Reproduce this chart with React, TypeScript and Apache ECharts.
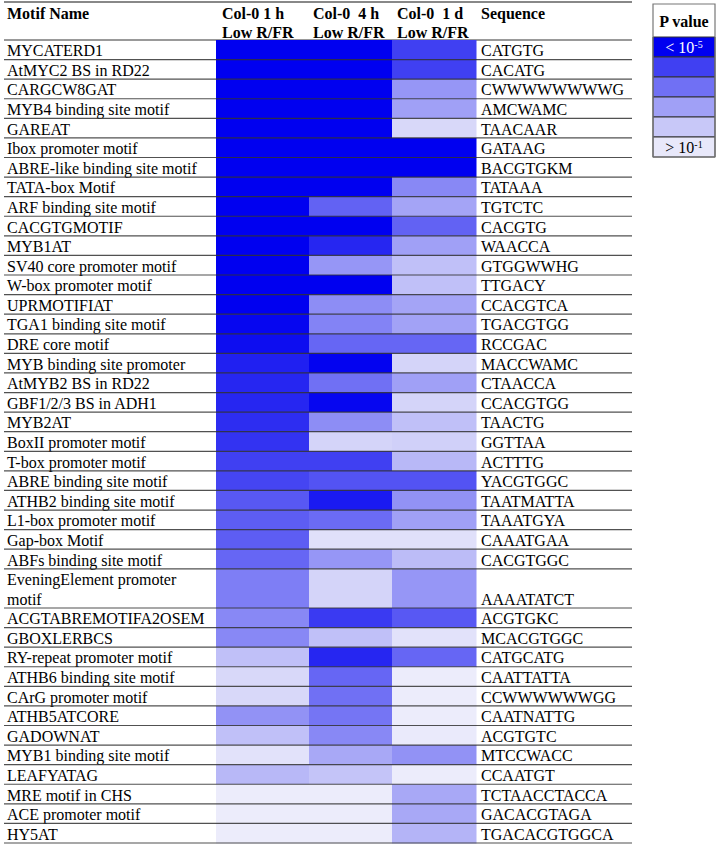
import React, { useEffect, useRef } from 'react';
import * as echarts from 'echarts';

// ---------- data ----------
const motifNames = [
  'MYCATERD1', 'AtMYC2 BS in RD22', 'CARGCW8GAT', 'MYB4 binding site motif', 'GAREAT',
  'Ibox promoter motif', 'ABRE-like binding site motif', 'TATA-box Motif', 'ARF binding site motif', 'CACGTGMOTIF',
  'MYB1AT', 'SV40 core promoter motif', 'W-box promoter motif', 'UPRMOTIFIAT', 'TGA1 binding site motif',
  'DRE core motif', 'MYB binding site promoter', 'AtMYB2 BS in RD22', 'GBF1/2/3 BS in ADH1', 'MYB2AT',
  'BoxII promoter motif', 'T-box promoter motif', 'ABRE binding site motif', 'ATHB2 binding site motif', 'L1-box promoter motif',
  'Gap-box Motif', 'ABFs binding site motif', 'EveningElement promoter\nmotif', 'ACGTABREMOTIFA2OSEM', 'GBOXLERBCS',
  'RY-repeat promoter motif', 'ATHB6 binding site motif', 'CArG promoter motif', 'ATHB5ATCORE', 'GADOWNAT',
  'MYB1 binding site motif', 'LEAFYATAG', 'MRE motif in CHS', 'ACE promoter motif', 'HY5AT',
];

const sequences = [
  'CATGTG', 'CACATG', 'CWWWWWWWWG', 'AMCWAMC', 'TAACAAR',
  'GATAAG', 'BACGTGKM', 'TATAAA', 'TGTCTC', 'CACGTG',
  'WAACCA', 'GTGGWWHG', 'TTGACY', 'CCACGTCA', 'TGACGTGG',
  'RCCGAC', 'MACCWAMC', 'CTAACCA', 'CCACGTGG', 'TAACTG',
  'GGTTAA', 'ACTTTG', 'YACGTGGC', 'TAATMATTA', 'TAAATGYA',
  'CAAATGAA', 'CACGTGGC', 'AAAATATCT', 'ACGTGKC', 'MCACGTGGC',
  'CATGCATG', 'CAATTATTA', 'CCWWWWWWGG', 'CAATNATTG', 'ACGTGTC',
  'MTCCWACC', 'CCAATGT', 'TCTAACCTACCA', 'GACACGTAGA', 'TGACACGTGGCA',
];

const columnTitles = ['Col-0 1 h', 'Col-0  4 h', 'Col-0  1 d'];
const columnSubtitles = ['Low R/FR', 'Low R/FR', 'Low R/FR'];

// significance score: 5 = P < 1e-5 ... 0 = P > 1e-1
const scoreCol1h = [
  5, 5, 5, 5, 5, 5, 5, 5, 5, 5,
  5, 5, 5, 5, 4.9, 4.8, 4.5, 4.4, 4.4, 4.3,
  4.2, 4.0, 3.9, 3.5, 3.4, 3.4, 3.2, 2.7, 2.5, 2.5,
  1.2, 0.6, 0.6, 2.3, 1.2, 0.35, 1.4, 0.1, 0.1, 0.1,
];
const scoreCol4h = [
  5, 5, 5, 5, 5, 5, 5, 5, 3.3, 5,
  4.4, 2.2, 5, 2.4, 2.6, 3.2, 4.95, 3.0, 4.9, 2.4,
  0.7, 4.0, 3.6, 4.6, 3.1, 0.4, 2.2, 0.7, 4.1, 1.2,
  4.4, 3.2, 3.0, 2.9, 2.5, 1.8, 1.1, 0.1, 0.1, 0.1,
];
const scoreCol1d = [
  4, 4, 2.2, 2.0, 0.6, 5, 5, 2.5, 1.9, 3.3,
  2.0, 1.2, 1.2, 1.9, 1.95, 3.2, 0.7, 2.0, 0.7, 1.2,
  0.8, 1.4, 3.6, 2.3, 2.0, 0.4, 1.3, 2.2, 3.5, 0.35,
  3.2, 0.1, 0.1, 0.1, 0.15, 2.3, 0.1, 1.8, 1.8, 1.5,
];

const legendTitle = 'P value';
const legendColors = ['#0000F0', '#4040F2', '#7070F4', '#A0A0F6', '#C8C8F8', '#E8E8FA'];
const scaleColors = ['#F0F0FB', '#C8C8F8', '#A0A0F6', '#7070F4', '#4040F2', '#0000F0'];

// ---------- layout ----------
const FONT = '"Liberation Serif", "Times New Roman", serif';
const TABLE_LEFT = 4;
const TABLE_RIGHT = 632;
const TABLE_WIDTH = TABLE_RIGHT - TABLE_LEFT;
const COL_EDGES = [212, 305, 388, 472]; // in table px units from TABLE_LEFT
const NAME_X = 3;
const SEQ_X = 477;

export default function App() {
  const ref = useRef<HTMLDivElement>(null);

  useEffect(() => {
    if (!ref.current) return;
    const chart = echarts.init(ref.current, undefined, { renderer: 'svg' });

    const rowSpan = motifNames.map((n) => n.split('\n').length);
    const rowStart: number[] = [];
    let acc = 0;
    rowSpan.forEach((s) => {
      rowStart.push(acc);
      acc += s;
    });
    const totalUnits = acc;

    const cellData: number[][] = [];
    [scoreCol1h, scoreCol4h, scoreCol1d].forEach((arr, c) =>
      arr.forEach((v, r) => cellData.push([c, r, v]))
    );
    const rowData = motifNames.map((_, i) => [0, i]);

    const txt = (text: string, x: number, y: number, opts: any = {}) => ({
      type: 'text',
      silent: true,
      style: {
        text,
        x,
        y,
        fill: opts.fill || '#000',
        font: opts.font || `16px ${FONT}`,
        textAlign: opts.align || 'left',
        align: opts.align || 'left',
        textVerticalAlign: 'middle',
        verticalAlign: 'middle',
        ...(opts.rich ? { rich: opts.rich } : {}),
      },
    });

    const graphics: any[] = [];
    // header lines
    graphics.push({ type: 'line', shape: { x1: TABLE_LEFT, y1: 2, x2: TABLE_RIGHT, y2: 2 }, style: { stroke: '#888', lineWidth: 2 } });
    graphics.push({ type: 'line', shape: { x1: TABLE_LEFT, y1: 40, x2: TABLE_RIGHT, y2: 40 }, style: { stroke: '#777', lineWidth: 1.5 } });
    graphics.push(txt('Motif Name', 7, 13, { font: `bold 16px ${FONT}` }));
    const headerX = [222, 313, 397];
    columnTitles.forEach((t, i) => {
      graphics.push(txt(t, headerX[i], 13, { font: `bold 16px ${FONT}` }));
      graphics.push(txt(columnSubtitles[i], headerX[i], 32, { font: `bold 16px ${FONT}` }));
    });
    graphics.push(txt('Sequence', 481, 13, { font: `bold 16px ${FONT}` }));

    // legend box
    const LX = 653, LW = 62, LTOP = 4, LHEAD = 37, LCELL = 20;
    legendColors.forEach((col, i) => {
      graphics.push({
        type: 'rect',
        shape: { x: LX, y: LHEAD + i * LCELL, width: LW, height: LCELL },
        style: { fill: col, stroke: '#333', lineWidth: 1 },
      });
    });
    graphics.push({
      type: 'rect',
      shape: { x: LX, y: LTOP, width: LW, height: LHEAD + legendColors.length * LCELL - LTOP },
      style: { fill: 'none', stroke: '#777', lineWidth: 1.2 },
    });
    graphics.push(txt(legendTitle, LX + LW / 2, 21, { font: `bold 16px ${FONT}`, align: 'center' }));
    graphics.push(
      txt('{a|< 10}{s|-5}', LX + LW / 2, LHEAD + LCELL / 2, {
        align: 'center',
        rich: {
          a: { fill: '#fff', font: `16px ${FONT}`, verticalAlign: 'middle' },
          s: { fill: '#fff', font: `10px ${FONT}`, verticalAlign: 'top' },
        },
      })
    );
    graphics.push(
      txt('{a|> 10}{s|-1}', LX + LW / 2, LHEAD + 5 * LCELL + LCELL / 2, {
        align: 'center',
        rich: {
          a: { fill: '#000', font: `16px ${FONT}`, verticalAlign: 'middle' },
          s: { fill: '#000', font: `10px ${FONT}`, verticalAlign: 'top' },
        },
      })
    );

    chart.setOption({
      animation: false,
      backgroundColor: '#fff',
      grid: { left: TABLE_LEFT, top: 40, width: TABLE_WIDTH, bottom: 2 },
      xAxis: { type: 'value', min: 0, max: TABLE_WIDTH, show: false },
      yAxis: { type: 'value', min: 0, max: totalUnits, inverse: true, show: false },
      visualMap: {
        show: false,
        type: 'continuous',
        min: 0,
        max: 5,
        dimension: 2,
        seriesIndex: 0,
        inRange: { color: scaleColors },
      },
      graphic: graphics,
      series: [
        {
          type: 'custom',
          z: 2,
          silent: true,
          encode: { x: 0, y: 1 },
          data: cellData,
          renderItem: (params: any, api: any) => {
            const c = api.value(0);
            const r = api.value(1);
            const p0 = api.coord([COL_EDGES[c], rowStart[r]]);
            const p1 = api.coord([COL_EDGES[c + 1], rowStart[r] + rowSpan[r]]);
            return {
              type: 'rect',
              shape: { x: p0[0], y: p0[1], width: p1[0] - p0[0] + 0.5, height: p1[1] - p0[1] + 0.5 },
              style: { fill: api.visual('color') },
            };
          },
        },
        {
          type: 'custom',
          z: 3,
          silent: true,
          encode: { x: 0, y: 1 },
          data: rowData,
          renderItem: (params: any, api: any) => {
            const r = api.value(1);
            const top = api.coord([0, rowStart[r]]);
            const bot = api.coord([TABLE_WIDTH, rowStart[r] + rowSpan[r]]);
            const unitH = (bot[1] - top[1]) / rowSpan[r];
            const lines = motifNames[r].split('\n');
            const children: any[] = lines.map((t, k) =>
              txt(t, top[0] + NAME_X, top[1] + unitH * (k + 0.5) + 1)
            );
            children.push(txt(sequences[r], top[0] + SEQ_X, top[1] + unitH * (rowSpan[r] - 0.5) + 1));
            children.push({
              type: 'line',
              shape: { x1: top[0], y1: bot[1], x2: bot[0], y2: bot[1] },
              style: { stroke: '#333', lineWidth: 1.2, opacity: 0.85 },
            });
            return { type: 'group', children };
          },
        },
      ],
    });

    return () => chart.dispose();
  }, []);

  return <div ref={ref} style={{ width: 718, height: 845, position: 'absolute', left: 0, top: 0 }} />;
}
